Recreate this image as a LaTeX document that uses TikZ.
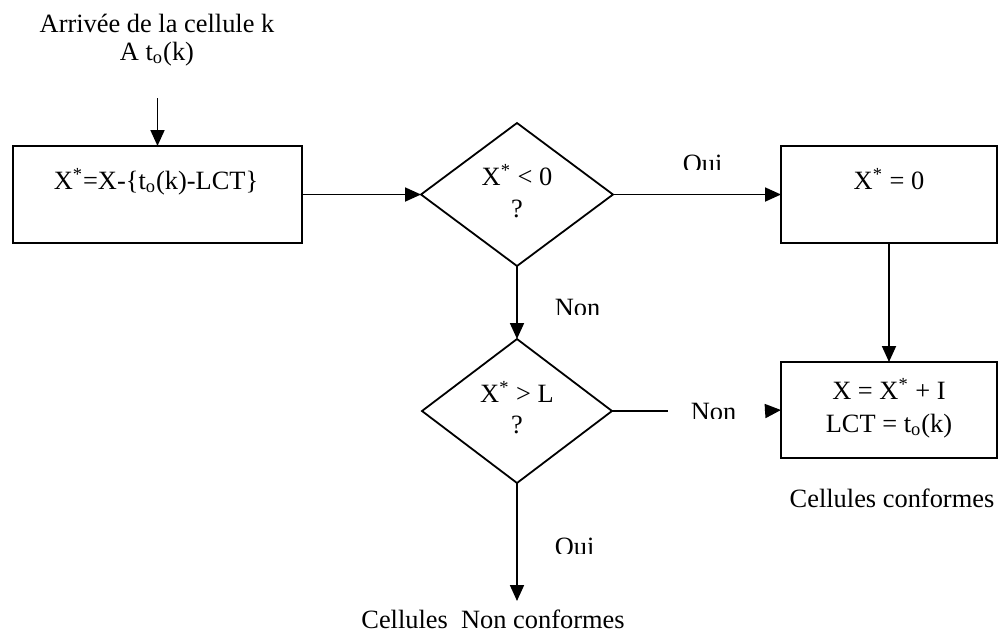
\documentclass[tikz,border=0pt]{standalone}
\usepackage{fontspec}
\setmainfont{Liberation Serif}
\usetikzlibrary{arrows.meta,shapes.geometric}

\tikzset{
  every picture/.style={line width=0.9pt},
  box/.style={draw, rectangle, inner sep=0pt, outer sep=0pt},
  choice/.style={draw, diamond, inner sep=0pt, outer sep=0pt, aspect=1.35},
  txt/.style={inner sep=0pt, anchor=base, font=\fontsize{13.2}{15}\selectfont},
  lbl/.style={inner sep=0pt, anchor=base west, font=\fontsize{13.2}{15}\selectfont},
  arr/.style={-{Triangle[length=8pt,width=7pt]}},
}

\begin{document}
\begin{tikzpicture}[x=0.5pt,y=-0.5pt]
  \useasboundingbox (0,0) rectangle (998,634);

  % entry text
  \node[txt] (arr1) at (157,32) {Arrivée de la cellule k};
  \node[txt] (arr2) at (157,60) {A t\textsubscript{o}(k)};
  \coordinate (entry) at (157.5,98);

  % process boxes
  \node[box, minimum width=144.5pt, minimum height=48.5pt] (box1) at (157.5,194.5) {};
  \node[txt] (t1) at (156,189) {X\textsuperscript{*}=X-\{t\textsubscript{o}(k)-LCT\}};

  \node[box, minimum width=108pt, minimum height=48.5pt] (box2) at (889,194.5) {};
  \node[txt] (t2) at (889,189) {X\textsuperscript{*} = 0};

  \node[box, minimum width=108pt, minimum height=48pt] (box3) at (889,410) {};
  \node[txt] (t3a) at (889,399) {X = X\textsuperscript{*} + I};
  \node[txt] (t3b) at (889,432) {LCT = t\textsubscript{o}(k)};

  % decisions
  \node[choice, minimum width=96pt, minimum height=71.5pt] (d1) at (517,194.5) {};
  \node[txt] (q1a) at (517,185) {X\textsuperscript{*} < 0};
  \node[txt] (q1b) at (517,217) {?};

  \node[choice, minimum width=95pt, minimum height=72pt] (d2) at (517,411) {};
  \node[txt] (q2a) at (517,402) {X\textsuperscript{*} > L};
  \node[txt] (q2b) at (517,433) {?};

  % outputs
  \coordinate (out) at (517,601);
  \node[txt] (nc) at (493,628) {Cellules~ Non conformes};
  \node[txt] (c) at (892,507) {Cellules conformes};

  % connectors
  \draw[arr] (entry) -- (box1.north);
  \draw[arr] (box1.east) -- (d1.west);
  \draw[arr] (d1.east) -- (box2.west);
  \draw[arr] (box2.south) -- (box3.north);
  \draw[arr] (d1.south) -- (d2.north);
  \coordinate (gapA) at (668,411);
  \coordinate (gapB) at (765,411);
  \draw (d2.east) -- (gapA);
  \draw[arr] (gapB) -- (box3.west);
  \draw[arr] (d2.south) -- (out);

  % branch labels, cut off along their lower edge
  \begin{scope}
    \clip (670,140) rectangle (740,169);
    \node[lbl] (oui1) at (682,172.5) {Oui};
  \end{scope}
  \begin{scope}
    \clip (545,285) rectangle (620,314);
    \node[lbl] (non1) at (554,316.5) {Non};
  \end{scope}
  \begin{scope}
    \clip (680,390) rectangle (760,418);
    \node[lbl] (non2) at (690,420.5) {Non};
  \end{scope}
  \begin{scope}
    \clip (545,525) rectangle (620,553);
    \node[lbl] (oui2) at (554,555.5) {Oui};
  \end{scope}
\end{tikzpicture}
\end{document}
